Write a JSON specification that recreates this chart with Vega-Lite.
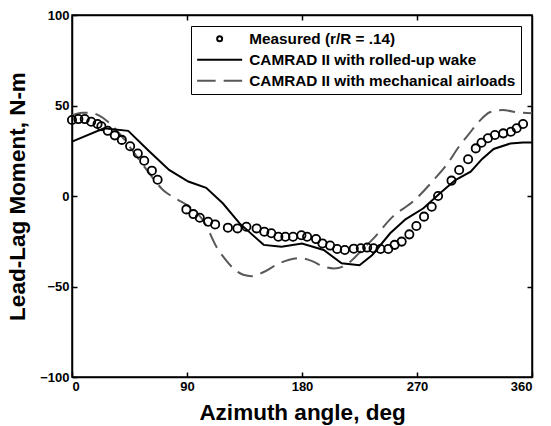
{
  "$schema": "https://vega.github.io/schema/vega-lite/v6.json",
  "width": 460,
  "height": 362,
  "autosize": {"type": "none"},
  "padding": {"left": 72, "top": 15, "right": 19, "bottom": 49},
  "background": "white",
  "config": {
    "font": "Liberation Sans",
    "view": {"stroke": "black", "strokeWidth": 1.5},
    "axis": {
      "domainColor": "black", "tickColor": "black", "labelColor": "black", "titleColor": "black",
      "labelFont": "Liberation Sans", "labelFontWeight": "bold", "labelFontSize": 13,
      "titleFont": "Liberation Sans", "titleFontWeight": "bold", "titleFontSize": 22.5,
      "grid": false, "tickSize": -5, "labelPadding": 8, "domainWidth": 1.5, "tickWidth": 1.5
    },
    "legend": {
      "labelFont": "Liberation Sans", "labelFontWeight": "bold", "labelFontSize": 15.3, "labelColor": "black", "labelLimit": 500
    }
  },
  "datasets": {
    "measured": [
      {"azimuth": 0, "moment": 42, "series": "Measured (r/R = .14)"},
      {"azimuth": 5, "moment": 42.5, "series": "Measured (r/R = .14)"},
      {"azimuth": 10, "moment": 42.5, "series": "Measured (r/R = .14)"},
      {"azimuth": 15, "moment": 41, "series": "Measured (r/R = .14)"},
      {"azimuth": 20, "moment": 39.8, "series": "Measured (r/R = .14)"},
      {"azimuth": 23, "moment": 38.5, "series": "Measured (r/R = .14)"},
      {"azimuth": 28, "moment": 36, "series": "Measured (r/R = .14)"},
      {"azimuth": 33.5, "moment": 33.5, "series": "Measured (r/R = .14)"},
      {"azimuth": 39, "moment": 31, "series": "Measured (r/R = .14)"},
      {"azimuth": 45.5, "moment": 27.5, "series": "Measured (r/R = .14)"},
      {"azimuth": 51.5, "moment": 23.5, "series": "Measured (r/R = .14)"},
      {"azimuth": 56.5, "moment": 19.5, "series": "Measured (r/R = .14)"},
      {"azimuth": 62.5, "moment": 14, "series": "Measured (r/R = .14)"},
      {"azimuth": 67, "moment": 9, "series": "Measured (r/R = .14)"},
      {"azimuth": 89.5, "moment": -7.4, "series": "Measured (r/R = .14)"},
      {"azimuth": 95, "moment": -10, "series": "Measured (r/R = .14)"},
      {"azimuth": 100, "moment": -12, "series": "Measured (r/R = .14)"},
      {"azimuth": 106.5, "moment": -14.2, "series": "Measured (r/R = .14)"},
      {"azimuth": 112, "moment": -15.7, "series": "Measured (r/R = .14)"},
      {"azimuth": 122, "moment": -17.5, "series": "Measured (r/R = .14)"},
      {"azimuth": 129.5, "moment": -17.9, "series": "Measured (r/R = .14)"},
      {"azimuth": 136.5, "moment": -17, "series": "Measured (r/R = .14)"},
      {"azimuth": 144.5, "moment": -17.9, "series": "Measured (r/R = .14)"},
      {"azimuth": 150.5, "moment": -19.7, "series": "Measured (r/R = .14)"},
      {"azimuth": 156, "moment": -20.6, "series": "Measured (r/R = .14)"},
      {"azimuth": 161.5, "moment": -22.5, "series": "Measured (r/R = .14)"},
      {"azimuth": 167, "moment": -22.5, "series": "Measured (r/R = .14)"},
      {"azimuth": 173, "moment": -22.5, "series": "Measured (r/R = .14)"},
      {"azimuth": 179.5, "moment": -21.7, "series": "Measured (r/R = .14)"},
      {"azimuth": 184, "moment": -22.5, "series": "Measured (r/R = .14)"},
      {"azimuth": 191, "moment": -23.8, "series": "Measured (r/R = .14)"},
      {"azimuth": 196, "moment": -26.2, "series": "Measured (r/R = .14)"},
      {"azimuth": 202, "moment": -27.4, "series": "Measured (r/R = .14)"},
      {"azimuth": 207.5, "moment": -29.3, "series": "Measured (r/R = .14)"},
      {"azimuth": 213.5, "moment": -29.8, "series": "Measured (r/R = .14)"},
      {"azimuth": 220.5, "moment": -29.1, "series": "Measured (r/R = .14)"},
      {"azimuth": 226, "moment": -28.9, "series": "Measured (r/R = .14)"},
      {"azimuth": 231, "moment": -28.5, "series": "Measured (r/R = .14)"},
      {"azimuth": 236, "moment": -28.9, "series": "Measured (r/R = .14)"},
      {"azimuth": 241.5, "moment": -29.3, "series": "Measured (r/R = .14)"},
      {"azimuth": 247.5, "moment": -29.3, "series": "Measured (r/R = .14)"},
      {"azimuth": 252.5, "moment": -27, "series": "Measured (r/R = .14)"},
      {"azimuth": 258, "moment": -25.2, "series": "Measured (r/R = .14)"},
      {"azimuth": 264, "moment": -21.2, "series": "Measured (r/R = .14)"},
      {"azimuth": 269.5, "moment": -16.6, "series": "Measured (r/R = .14)"},
      {"azimuth": 275.5, "moment": -11.4, "series": "Measured (r/R = .14)"},
      {"azimuth": 281.5, "moment": -5.9, "series": "Measured (r/R = .14)"},
      {"azimuth": 286.5, "moment": 0, "series": "Measured (r/R = .14)"},
      {"azimuth": 297, "moment": 8.5, "series": "Measured (r/R = .14)"},
      {"azimuth": 303, "moment": 14.4, "series": "Measured (r/R = .14)"},
      {"azimuth": 310, "moment": 20.3, "series": "Measured (r/R = .14)"},
      {"azimuth": 316, "moment": 26.3, "series": "Measured (r/R = .14)"},
      {"azimuth": 320.5, "moment": 29.4, "series": "Measured (r/R = .14)"},
      {"azimuth": 325.5, "moment": 31.9, "series": "Measured (r/R = .14)"},
      {"azimuth": 331, "moment": 33.7, "series": "Measured (r/R = .14)"},
      {"azimuth": 337.5, "moment": 34.6, "series": "Measured (r/R = .14)"},
      {"azimuth": 343.5, "moment": 35.5, "series": "Measured (r/R = .14)"},
      {"azimuth": 348, "moment": 37.4, "series": "Measured (r/R = .14)"},
      {"azimuth": 353, "moment": 39.8, "series": "Measured (r/R = .14)"}
    ],
    "rolled": [
      {"azimuth": 0, "moment": 30},
      {"azimuth": 25, "moment": 37.4},
      {"azimuth": 44, "moment": 36},
      {"azimuth": 60, "moment": 25},
      {"azimuth": 76, "moment": 14.4},
      {"azimuth": 91, "moment": 8},
      {"azimuth": 105, "moment": 4.5},
      {"azimuth": 118, "moment": -4},
      {"azimuth": 131, "moment": -15},
      {"azimuth": 150, "moment": -27},
      {"azimuth": 164, "moment": -28},
      {"azimuth": 180, "moment": -26.2},
      {"azimuth": 197, "moment": -29.8},
      {"azimuth": 211, "moment": -37.2},
      {"azimuth": 225, "moment": -38.3},
      {"azimuth": 235, "moment": -32.6},
      {"azimuth": 249, "moment": -20.6},
      {"azimuth": 261, "moment": -12.9},
      {"azimuth": 275, "moment": -6.8},
      {"azimuth": 288, "moment": 1.5},
      {"azimuth": 300, "moment": 8.8},
      {"azimuth": 312, "moment": 13.4},
      {"azimuth": 321, "moment": 20.5},
      {"azimuth": 330, "moment": 26},
      {"azimuth": 343, "moment": 29},
      {"azimuth": 353, "moment": 29.6},
      {"azimuth": 360, "moment": 29.6}
    ],
    "mech": [
      {"azimuth": 0, "moment": 44.5},
      {"azimuth": 8, "moment": 46},
      {"azimuth": 15, "moment": 46},
      {"azimuth": 21, "moment": 44.5},
      {"azimuth": 29, "moment": 40.5},
      {"azimuth": 40, "moment": 32},
      {"azimuth": 50, "moment": 22.5},
      {"azimuth": 60, "moment": 13},
      {"azimuth": 71, "moment": 3.5},
      {"azimuth": 80, "moment": -1},
      {"azimuth": 90, "moment": -5},
      {"azimuth": 104, "moment": -15},
      {"azimuth": 113, "moment": -28},
      {"azimuth": 120, "moment": -35},
      {"azimuth": 127, "moment": -40.5},
      {"azimuth": 134, "moment": -43.5},
      {"azimuth": 141, "moment": -44.3},
      {"azimuth": 150, "moment": -42},
      {"azimuth": 160, "moment": -38},
      {"azimuth": 170, "moment": -35.2},
      {"azimuth": 178, "moment": -34.3},
      {"azimuth": 188, "moment": -36},
      {"azimuth": 197, "moment": -39},
      {"azimuth": 205, "moment": -40},
      {"azimuth": 212, "moment": -39},
      {"azimuth": 219, "moment": -35.5},
      {"azimuth": 228, "moment": -29},
      {"azimuth": 236, "moment": -23.4},
      {"azimuth": 251, "moment": -11.4},
      {"azimuth": 267, "moment": -3},
      {"azimuth": 283, "moment": 8.8},
      {"azimuth": 294, "moment": 18},
      {"azimuth": 303, "moment": 27.5},
      {"azimuth": 311, "moment": 34.6},
      {"azimuth": 319, "moment": 41.5},
      {"azimuth": 327, "moment": 46.3},
      {"azimuth": 337, "moment": 47.5},
      {"azimuth": 348, "moment": 46.3},
      {"azimuth": 360, "moment": 45.7}
    ]
  },
  "resolve": {"axis": {"x": "independent", "y": "independent"}},
  "layer": [
    {
      "data": {"name": "mech"},
      "mark": {"type": "line", "stroke": "#585858", "strokeWidth": 2, "strokeDash": [16, 8], "interpolate": "monotone"},
      "encoding": {
        "x": {"field": "azimuth", "type": "quantitative", "scale": {"domain": [0, 360], "nice": false}, "axis": null},
        "y": {"field": "moment", "type": "quantitative", "scale": {"domain": [-100, 100], "nice": false}, "axis": null}
      }
    },
    {
      "data": {"name": "rolled"},
      "mark": {"type": "line", "stroke": "black", "strokeWidth": 2},
      "encoding": {
        "x": {"field": "azimuth", "type": "quantitative", "axis": {"orient": "top", "labels": false, "title": null, "values": [90, 180, 270]}},
        "y": {"field": "moment", "type": "quantitative", "axis": {"orient": "right", "labels": false, "title": null, "values": [-50, 0, 50]}}
      }
    },
    {
      "data": {"name": "measured"},
      "mark": {"type": "point", "filled": false, "size": 68, "strokeWidth": 1.8, "opacity": 1},
      "encoding": {
        "x": {"field": "azimuth", "type": "quantitative", "axis": {"orient": "bottom", "title": "Azimuth angle, deg", "values": [0, 90, 180, 270, 360], "titleY": 42, "titleBaseline": "alphabetic"}},
        "y": {"field": "moment", "type": "quantitative", "axis": {"orient": "left", "title": "Lead-Lag Moment, N-m", "values": [-100, -50, 0, 50, 100], "titleX": -48, "titleY": 181, "titleBaseline": "alphabetic"}},
        "color": {
          "field": "series", "type": "nominal",
          "scale": {"domain": ["Measured (r/R = .14)", "CAMRAD II with rolled-up wake", "CAMRAD II with mechanical airloads"], "range": ["black", "black", "#585858"]},
          "legend": {"title": null, "orient": "top-right", "offset": 11, "padding": 5, "strokeColor": "black", "fillColor": "white", "cornerRadius": 0, "symbolSize": 25, "symbolStrokeWidth": 2, "symbolOffset": 16, "labelOffset": 22, "rowPadding": 5}
        },
        "shape": {
          "field": "series", "type": "nominal",
          "scale": {"domain": ["Measured (r/R = .14)", "CAMRAD II with rolled-up wake", "CAMRAD II with mechanical airloads"], "range": ["circle", "M-9,0L9,0", "M-9,0L-1.6,0M1.6,0L9,0"]},
          "legend": {"title": null, "orient": "top-right", "offset": 11, "padding": 5, "strokeColor": "black", "fillColor": "white", "cornerRadius": 0, "symbolSize": 25, "symbolStrokeWidth": 2, "symbolOffset": 16, "labelOffset": 22, "rowPadding": 5}
        }
      }
    }
  ]
}
